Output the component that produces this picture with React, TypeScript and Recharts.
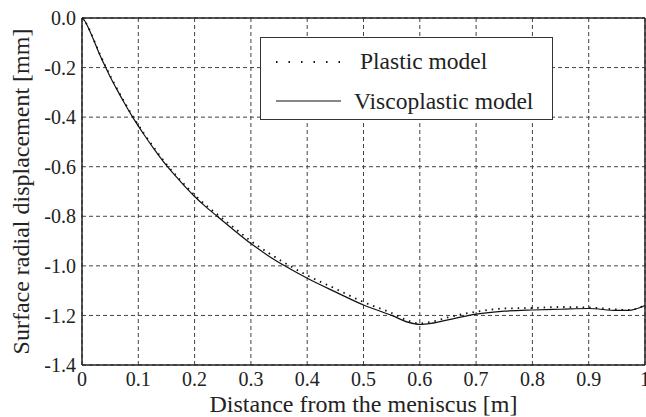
import React from 'react';
import { LineChart, Line, XAxis, YAxis, CartesianGrid, ReferenceLine, Label } from 'recharts';

const distance = [0, 0.005, 0.01, 0.02, 0.03, 0.04, 0.05, 0.06, 0.075, 0.09, 0.11, 0.13, 0.15, 0.175, 0.2, 0.22, 0.24, 0.27, 0.3, 0.33, 0.36, 0.4, 0.45, 0.5, 0.55, 0.58, 0.6, 0.62, 0.65, 0.7, 0.75, 0.8, 0.85, 0.9, 0.95, 0.97, 1.0];
const viscoplastic = [0, -0.012, -0.033, -0.085, -0.14, -0.19, -0.237, -0.28, -0.342, -0.4, -0.47, -0.535, -0.595, -0.66, -0.72, -0.762, -0.8, -0.856, -0.91, -0.958, -1.0, -1.05, -1.105, -1.158, -1.2, -1.228, -1.236, -1.232, -1.218, -1.195, -1.183, -1.178, -1.175, -1.172, -1.18, -1.18, -1.16];
const plastic = [0, -0.012, -0.032, -0.083, -0.137, -0.186, -0.233, -0.276, -0.338, -0.396, -0.466, -0.53, -0.59, -0.655, -0.714, -0.755, -0.792, -0.846, -0.9, -0.946, -0.988, -1.038, -1.092, -1.146, -1.19, -1.222, -1.232, -1.226, -1.208, -1.185, -1.172, -1.17, -1.166, -1.168, -1.176, -1.178, -1.16];
const xTicks = [0, 0.1, 0.2, 0.3, 0.4, 0.5, 0.6, 0.7, 0.8, 0.9, 1];
const yTicks = [0, -0.2, -0.4, -0.6, -0.8, -1.0, -1.2, -1.4];

const data = distance.map((d, i) => ({ d, visco: viscoplastic[i], plastic: plastic[i] }));

const font = '"Liberation Serif", "Times New Roman", serif';

export default function App() {
  return (
    <div style={{ position: 'absolute', left: 0, top: 0, width: 646, height: 417, background: '#fff', fontFamily: font }}>
      <LineChart width={646} height={417} data={data} margin={{ top: 18, right: 1, left: 0, bottom: 0 }}>
        <CartesianGrid stroke="#444" strokeDasharray="4 3" strokeWidth={1} />
        <XAxis
          dataKey="d"
          type="number"
          domain={[0, 1]}
          ticks={xTicks}
          tickFormatter={(v: number) => (v === 0 ? '0' : v === 1 ? '1' : String(v))}
          height={52}
          axisLine={{ stroke: '#222', strokeWidth: 1.5 }}
          tickLine={false}
          tick={{ fill: '#222', fontSize: 20, fontFamily: font }}
          tickMargin={1}
          interval={0}
        >
          <Label value="Distance from the meniscus [m]" position="insideBottom" offset={5} style={{ fill: '#222', fontSize: 24, fontFamily: font }} />
        </XAxis>
        <YAxis
          type="number"
          domain={[-1.4, 0]}
          ticks={yTicks}
          tickFormatter={(v: number) => v.toFixed(1)}
          width={82}
          axisLine={{ stroke: '#222', strokeWidth: 1.5 }}
          tickLine={false}
          tick={{ fill: '#222', fontSize: 20, fontFamily: font }}
          tickMargin={0}
          interval={0}
        >
          <Label value="Surface radial displacement [mm]" angle={-90} position="insideLeft" offset={20} style={{ fill: '#222', fontSize: 24, fontFamily: font, textAnchor: 'middle' }} />
        </YAxis>
        <ReferenceLine y={0} stroke="#222" strokeWidth={1.5} />
        <ReferenceLine x={1} stroke="#222" strokeWidth={1.5} />
        <Line type="monotone" dataKey="plastic" stroke="#111" strokeWidth={1.8} strokeDasharray="1.5 5" dot={false} isAnimationActive={false} />
        <Line type="monotone" dataKey="visco" stroke="#111" strokeWidth={1.2} dot={false} isAnimationActive={false} />
      </LineChart>
      <div style={{ position: 'absolute', left: 260, top: 37, width: 293, height: 83, border: '1.5px solid #333', background: '#fff', boxSizing: 'border-box' }}>
        <svg width={100} height={83} style={{ position: 'absolute', left: 0, top: 0 }}>
          <line x1={15} y1={24} x2={80} y2={24} stroke="#111" strokeWidth={2} strokeDasharray="1.5 11" />
          <line x1={15} y1={63} x2={80} y2={63} stroke="#111" strokeWidth={1.2} />
        </svg>
        <div style={{ position: 'absolute', left: 99, top: 9, fontSize: 23.5, lineHeight: '28px', color: '#222', whiteSpace: 'nowrap' }}>Plastic model</div>
        <div style={{ position: 'absolute', left: 93, top: 49, fontSize: 23.5, lineHeight: '28px', color: '#222', whiteSpace: 'nowrap' }}>Viscoplastic model</div>
      </div>
    </div>
  );
}
